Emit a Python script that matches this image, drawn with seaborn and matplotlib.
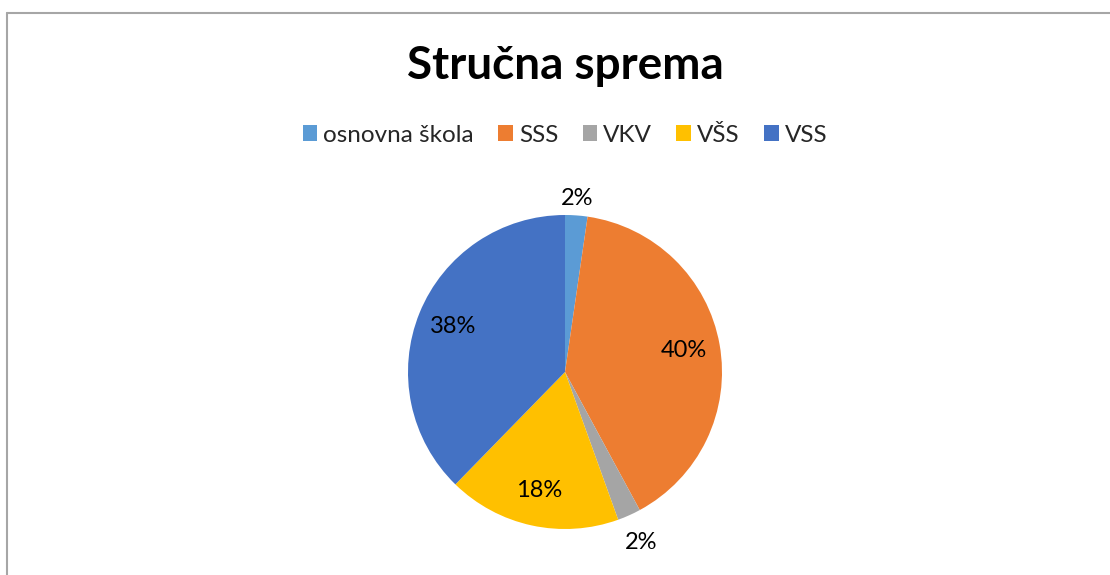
import numpy as np
import seaborn as sns
import matplotlib.pyplot as plt
from matplotlib.lines import Line2D

# data
categories = ["osnovna škola", "SSS", "VKV", "VŠS", "VSS"]
shares = [2.3, 39.8, 2.4, 17.8, 37.7]
colors = ["#5B9BD5", "#ED7D31", "#A5A5A5", "#FFC000", "#4472C4"]

sns.set_theme(style="white")
plt.rcParams['font.family'] = ['Lato', 'DejaVu Sans']

W, H = 1110, 575
fig = plt.figure(figsize=(W / 100, H / 100), dpi=100)

# pie axes: radius ~157px, centre at (565, 372)
R = 157
cx, cy = 565, 372
half = R * 1.25
ax = fig.add_axes([(cx - half) / W, (H - cy - half) / H, 2 * half / W, 2 * half / H])

palette = sns.color_palette(colors)
wedges, texts, autotexts = ax.pie(
    shares, colors=palette, startangle=90, counterclock=False,
    autopct='%.0f%%', pctdistance=0.77,
    textprops=dict(fontsize=17, color='#000000'),
    wedgeprops=dict(linewidth=0),
)
ax.set_xlim(-1.25, 1.25)
ax.set_ylim(-1.25, 1.25)
ax.set_aspect('equal')

# small slices get their labels pushed outside
for w, t, v in zip(wedges, autotexts, shares):
    if v < 5:
        ang = np.deg2rad((w.theta1 + w.theta2) / 2)
        r = 1.11 if np.sin(ang) > 0 else 1.19
        t.set_position((r * np.cos(ang), r * np.sin(ang)))

fig.text(cx / W, 1 - 66 / H, "Stručna sprema", ha='center', va='center',
         fontsize=33, fontweight='bold', color='#000000')

fig.legend(wedges, categories, loc='center', bbox_to_anchor=(cx / W, 1 - 135 / H),
           ncol=5, frameon=False, fontsize=17.5, handlelength=0.6, handleheight=0.6,
           handletextpad=0.25, columnspacing=1.0)

# chart frame (cropped)
fig.add_artist(Line2D([6.5 / W, 6.5 / W], [0, 1 - 13 / H], transform=fig.transFigure,
                      color='#A6A6A6', lw=1.5))
fig.add_artist(Line2D([6.5 / W, 1], [1 - 13 / H, 1 - 13 / H], transform=fig.transFigure,
                      color='#A6A6A6', lw=1.5))

fig.savefig("out.png", dpi=100, facecolor='white')
